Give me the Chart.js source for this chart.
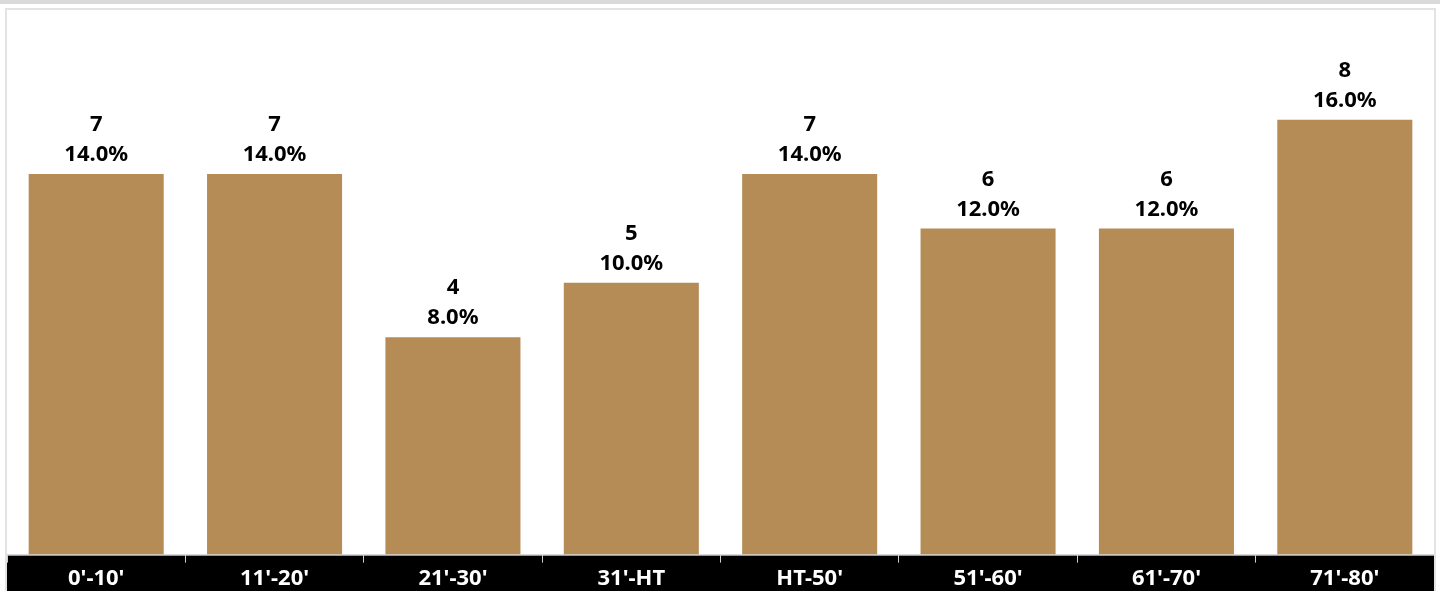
<!DOCTYPE html>
<html>
<head>
<meta charset="utf-8">
<script src="https://cdn.jsdelivr.net/npm/chart.js@4"></script>
<style>
  html, body { margin: 0; padding: 0; background: #fff; overflow: hidden; }
  body { width: 1440px; height: 591px; position: relative; }
  .topbar { position: absolute; left: 0; top: 0; width: 1440px; height: 4px; background: #d9d9d9; }
  .panel { position: absolute; left: 5px; top: 8px; width: 1427px; height: 583px;
           border-top: 2px solid #e3e3e3; border-left: 2px solid #e3e3e3; border-right: 2px solid #e3e3e3; }
  .panel canvas { display: block; }
</style>
</head>
<body>
<div class="topbar"></div>
<div class="panel"><canvas id="goalsChart" width="1427" height="581"></canvas></div>
<script>
const categories = ["0'-10'", "11'-20'", "21'-30'", "31'-HT", "HT-50'", "51'-60'", "61'-70'", "71'-80'"];
const goals = [7, 7, 4, 5, 7, 6, 6, 8];
const percents = ['14.0%', '14.0%', '8.0%', '10.0%', '14.0%', '12.0%', '12.0%', '16.0%'];

const fontName = "'Noto Sans', 'DejaVu Sans', sans-serif";

const blackBand = {
    id: 'blackBand',
    beforeDraw(chart) {
        const ctx = chart.ctx;
        ctx.save();
        ctx.fillStyle = '#000';
        ctx.fillRect(0, chart.chartArea.bottom + 1, chart.width, chart.height - chart.chartArea.bottom);
        ctx.restore();
    }
};

const barLabels = {
    id: 'barLabels',
    afterDatasetsDraw(chart) {
        const ctx = chart.ctx;
        const meta = chart.getDatasetMeta(0);
        ctx.save();
        ctx.fillStyle = '#000';
        ctx.textAlign = 'center';
        ctx.textBaseline = 'middle';
        ctx.font = 'bold 22px ' + fontName;
        meta.data.forEach(function(bar, i) {
            ctx.fillText(String(goals[i]), bar.x, bar.y - 49);
            ctx.fillText(percents[i], bar.x, bar.y - 19);
        });
        ctx.restore();
    }
};

new Chart(document.getElementById('goalsChart'), {
    type: 'bar',
    data: {
        labels: categories,
        datasets: [{
            data: goals,
            backgroundColor: '#B58B56',
            barPercentage: 0.757,
            categoryPercentage: 1.0
        }]
    },
    options: {
        responsive: false,
        animation: false,
        layout: { padding: { top: 1, left: 0, right: 0, bottom: -4 } },
        plugins: {
            legend: { display: false },
            tooltip: { enabled: false }
        },
        scales: {
            y: {
                display: false,
                min: 0,
                max: 10
            },
            x: {
                grid: {
                    drawOnChartArea: false,
                    drawTicks: true,
                    tickLength: 8,
                    color: '#d0d0d0',
                    offset: true
                },
                border: { color: '#d9d9d9', width: 1 },
                ticks: {
                    color: '#fff',
                    padding: 3,
                    font: { family: fontName, size: 22, weight: 'bold' }
                }
            }
        }
    },
    plugins: [blackBand, barLabels]
});
</script>
</body>
</html>
